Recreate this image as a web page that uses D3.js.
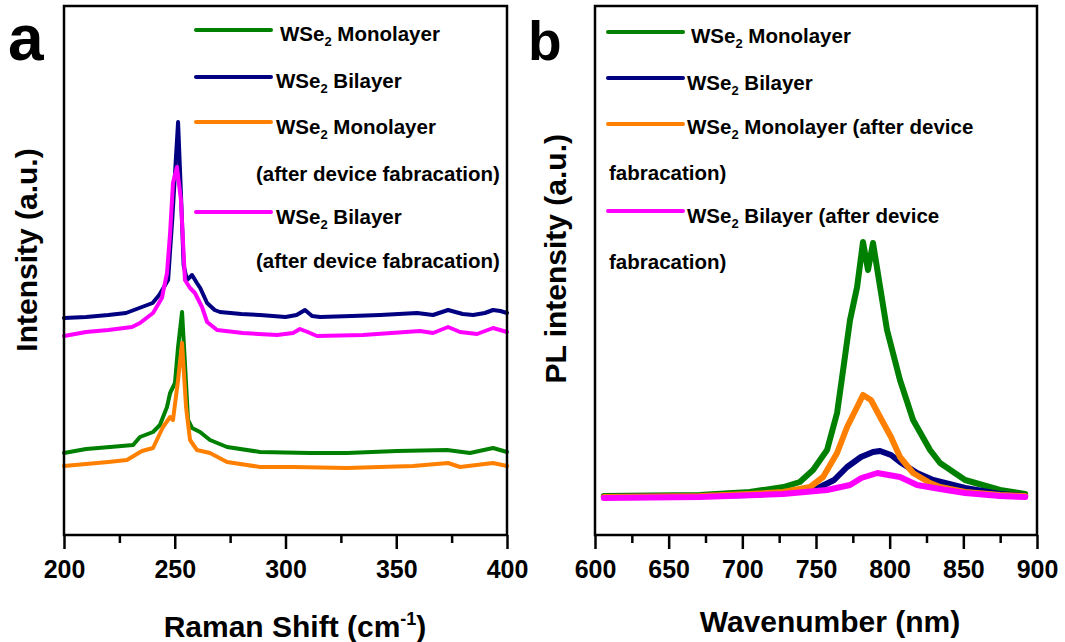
<!DOCTYPE html>
<html>
<head>
<meta charset="utf-8">
<script src="https://cdn.jsdelivr.net/npm/d3@7"></script>
<style>
  body { margin: 0; background: #fff; }
  text { font-family: "Liberation Sans", Arial, sans-serif; font-weight: bold; fill: #000; }
</style>
</head>
<body>
<div id="chart"></div>
<script>
// ---- data (intensity in arbitrary units) ----
// panel a: Raman shift (cm-1) vs intensity
var ramanMono = [[200,82],[210,86],[220.8,88],[231.2,90],[234.3,98],[240.2,103],[243.3,110],[246.5,128],[247.9,142],[250.1,152],[251.5,188],[253.3,223],[254.6,172],[256,115],[257.8,107],[261.4,103],[265.9,95],[273.6,88],[288.5,83],[311,82],[327.8,82],[350.3,84],[372.9,85],[383.3,82],[393.7,87],[400,83]];
var ramanBi = [[200,217],[210,218],[220,220],[228,222],[234,227],[240,232],[243,240],[247,255],[249,320],[251.5,413],[253,330],[254,270],[255.5,255],[257.8,260],[260,252],[261.5,247],[264.6,232],[268,225],[270.4,223],[280,221],[288.5,220],[300,218],[305,220],[308.8,225],[312,219],[315.6,218],[330,219],[342.7,220],[359.4,222],[366.6,220],[373.4,225],[380,221],[384.7,220],[390,222],[393.7,225],[397,224],[400,222]];
var ramanMonoAfter = [[200,69],[210,71],[220,73],[228.4,75],[235.2,84],[240.2,87],[244.7,108],[247.9,118],[249.2,115],[251.5,155],[253.3,192],[255.1,128],[256.9,95],[260,85],[265.9,82],[273.6,73],[288.5,68],[303.4,68],[327.8,67],[357.6,69],[373.4,72],[378.8,68],[393.7,72],[400,69]];
var ramanBiAfter = [[200,199],[210,203],[220,205],[230.7,208],[234.3,212],[240.2,222],[244.2,237],[246.5,262],[247.9,302],[249.2,352],[251,368],[252.8,335],[254.6,255],[256.9,247],[259.1,242],[262.3,228],[264.6,213],[269.1,205],[280.8,202],[296.2,200],[303.4,202],[306.5,206],[310,203],[314.2,199],[335,200],[360.7,204],[366.6,202],[373.4,208],[378.8,203],[386.5,201],[393.7,207],[400,203]];

// panel b: wavelength (nm) vs PL intensity
var plMono = [[606,39],[671,40],[705,43],[728,48],[739,53],[748,65],[757.5,85],[764.3,122],[768.4,165],[773.1,215],[777.9,248],[781.9,293],[785.3,265],[788.7,292],[793.5,248],[798.2,205],[807,155],[815.9,115],[827.4,85],[834.2,72],[851.2,55],[874.9,45],[892,41]];
var plBi = [[606,38],[671,39],[705,40],[727.6,42],[745,45],[752.8,48],[762.3,55],[771.1,68],[780.5,78],[788.7,83],[793.5,84],[800.9,80],[807,73],[818.6,62],[829.5,55],[851.2,47],[874.9,41],[892,39]];
var plMonoAfter = [[606,38],[671,39],[705,41],[727.6,43],[746,48],[754.8,58],[764.3,82],[771.1,108],[777.9,128],[781.9,140],[787.3,135],[793.5,118],[800.9,98],[807,78],[815.9,62],[827.4,52],[834.2,48],[851.2,43],[874.9,40],[892,39]];
var plBiAfter = [[606,37],[671,38],[727.6,41],[757.5,45],[773.1,50],[780.8,57],[791.7,62],[807,58],[818.6,50],[834.2,46],[851.2,42],[874.9,39],[892,38]];

var ramanTicks = [200, 250, 300, 350, 400];
var ramanMinor = [225, 275, 325, 375];
var plTicks = [600, 650, 700, 750, 800, 850, 900];
var plMinor = [625, 675, 725, 775, 825, 875];

var seriesColors = ["#008000", "#000080", "#ff8000", "#ff00ff"];

var svgWidth = 1065;
var svgHeight = 642;

var svg = d3.select("#chart")
  .append("svg")
  .attr("width", svgWidth)
  .attr("height", svgHeight);

// draws one framed panel, returns the scales
function drawPanel(opts) {
  var x = d3.scaleLinear().domain(opts.domain).range([opts.left, opts.right]);
  var y = d3.scaleLinear().domain([0, 529]).range([535, 6]);

  var g = svg.append("g");

  // curves
  var line = d3.line()
    .x(d => x(d[0]))
    .y(d => y(d[1]));

  opts.series.forEach(function(s, i) {
    g.append("path")
      .datum(s)
      .attr("fill", "none")
      .attr("stroke", seriesColors[i])
      .attr("stroke-width", opts.lineWidth)
      .attr("stroke-linejoin", "round")
      .attr("stroke-linecap", "round")
      .attr("d", line);
  });

  // frame
  g.append("rect")
    .attr("x", opts.left)
    .attr("y", 6)
    .attr("width", opts.right - opts.left)
    .attr("height", 529)
    .attr("fill", "none")
    .attr("stroke", "#000")
    .attr("stroke-width", 2.5);

  // major ticks + labels
  var major = g.append("g")
    .attr("transform", "translate(0,535)")
    .call(d3.axisBottom(x).tickValues(opts.ticks).tickSize(14).tickPadding(11).tickFormat(d3.format("d")));
  major.select(".domain").remove();
  major.selectAll("line").attr("stroke-width", 2.5);
  major.selectAll("text")
    .attr("fill", "#000")
    .style("font-size", "25px")
    .style("font-family", "Liberation Sans, Arial, sans-serif")
    .style("font-weight", "bold");

  // minor ticks
  var minor = g.append("g")
    .attr("transform", "translate(0,535)")
    .call(d3.axisBottom(x).tickValues(opts.minor).tickSize(8).tickFormat(""));
  minor.select(".domain").remove();
  minor.selectAll("line").attr("stroke-width", 2.5);

  return {x: x, y: y};
}

drawPanel({
  domain: [200, 400], left: 64, right: 507,
  ticks: ramanTicks, minor: ramanMinor,
  series: [ramanMono, ramanBi, ramanMonoAfter, ramanBiAfter],
  lineWidth: 4
});

drawPanel({
  domain: [600, 900], left: 595, right: 1037,
  ticks: plTicks, minor: plMinor,
  series: [plMono, plBi, plMonoAfter, plBiAfter],
  lineWidth: 6
});

// legend entry with WSe2 subscript
function legendEntry(x1, x2, ly, tx, ty, color, rest) {
  svg.append("line")
    .attr("x1", x1).attr("x2", x2)
    .attr("y1", ly).attr("y2", ly)
    .attr("stroke", color)
    .attr("stroke-width", 4)
    .attr("stroke-linecap", "round");
  var t = svg.append("text")
    .attr("x", tx)
    .attr("y", ty)
    .style("font-size", "20.5px");
  t.append("tspan").text("WSe");
  t.append("tspan").attr("dy", 5).style("font-size", "13px").text("2");
  t.append("tspan").attr("dy", -5).text(" " + rest);
}

function plainText(x, y, size, txt) {
  return svg.append("text")
    .attr("x", x)
    .attr("y", y)
    .style("font-size", size + "px")
    .text(txt);
}

// panel a legend
legendEntry(196, 271, 30, 280, 41, seriesColors[0], "Monolayer");
legendEntry(196, 271, 77, 276, 88, seriesColors[1], "Bilayer");
legendEntry(196, 271, 122, 276, 134, seriesColors[2], "Monolayer");
plainText(256, 181, 20.5, "(after device fabracation)");
legendEntry(196, 271, 212, 276, 224, seriesColors[3], "Bilayer");
plainText(256, 268, 20.5, "(after device fabracation)");

// panel b legend
legendEntry(608, 683, 32, 691, 43, seriesColors[0], "Monolayer");
legendEntry(608, 683, 78, 687, 90, seriesColors[1], "Bilayer");
legendEntry(608, 683, 124, 687, 134, seriesColors[2], "Monolayer (after device");
plainText(609, 180, 20.5, "fabracation)");
legendEntry(608, 683, 211, 687, 223, seriesColors[3], "Bilayer (after device");
plainText(609, 269, 20.5, "fabracation)");

// panel letters
plainText(8, 60, 64, "a");
plainText(528, 60, 55, "b");

// axis titles
var xTitleA = svg.append("text")
  .attr("x", 295)
  .attr("y", 637)
  .attr("text-anchor", "middle")
  .style("font-size", "30px");
xTitleA.append("tspan").text("Raman Shift (cm");
xTitleA.append("tspan").attr("dy", -12).style("font-size", "18px").text("-1");
xTitleA.append("tspan").attr("dy", 12).text(")");

svg.append("text")
  .attr("x", 830)
  .attr("y", 632)
  .attr("text-anchor", "middle")
  .style("font-size", "30px")
  .text("Wavenumber (nm)");

svg.append("text")
  .attr("transform", "translate(37,250) rotate(-90)")
  .attr("text-anchor", "middle")
  .style("font-size", "30px")
  .text("Intensity (a.u.)");

svg.append("text")
  .attr("transform", "translate(566,134) rotate(-90)")
  .attr("text-anchor", "end")
  .style("font-size", "30px")
  .text("PL intensity (a.u.)");
</script>
</body>
</html>
